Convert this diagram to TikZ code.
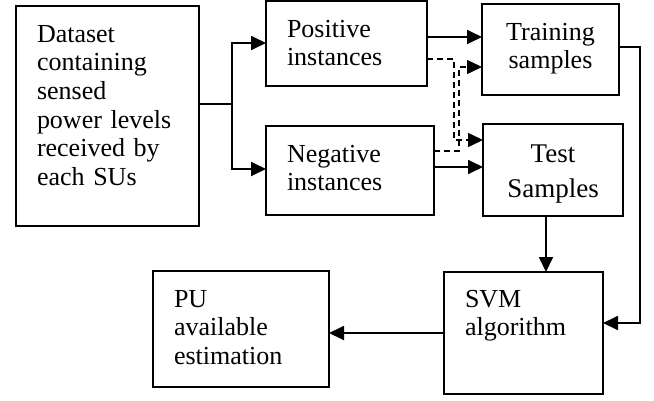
\documentclass[tikz,border=0pt]{standalone}
\usepackage{fontspec}
\setmainfont{Liberation Serif}
\usetikzlibrary{arrows.meta}

\tikzset{
	box/.style={draw, line width=1.8pt, anchor=north west, outer sep=0pt, inner xsep=21pt, inner ysep=0pt, text height=36pt, align=left, font=\fontsize{26}{28.7}\selectfont},
	link/.style={line width=1.8pt, -{Triangle[length=15pt,width=14pt]}},
	dlink/.style={link, line width=1.5pt, dash pattern=on 6pt off 4pt}
}

\begin{document}
\begin{tikzpicture}[x=1pt, y=-1pt]
		\useasboundingbox (0,0) rectangle (654,400);
		\node[box, text width=141pt, text depth=184pt] (data) at (16,6) {Dataset\\containing\\sensed\\power levels\\received by\\each SUs};
		\node[box, text width=119pt, text depth=49pt] (pos) at (266,1) {Positive\\instances};
		\node[box, text width=126pt, text depth=53pt] (neg) at (266,126) {Negative\\instances};
		\node[box, align=center, text width=95pt, text depth=55pt] (train) at (482,4) {Training\\samples};
		\node[box, align=center, text width=98pt, text height=38pt, text depth=54pt, font=\fontsize{27}{35}\selectfont] (test) at (483,124) {Test\\Samples};
		\node[box, text width=117pt, text height=35pt, text depth=87pt] (svm) at (444,272) {SVM\\algorithm};
		\node[box, text width=134pt, text depth=80pt] (pu) at (153,271) {PU\\available\\estimation};
		\coordinate (fork) at (232,104);
		\draw[line width=1.8pt] (fork -| data.east) -- (fork);
		\draw[link] (fork) |- ([yshift=0.5pt]pos.west);
		\draw[link] (fork) |- ([yshift=1.5pt]neg.west);
		\draw[link] ([yshift=6.5pt]pos.east) -- ([yshift=6.5pt]pos.east -| train.west);
		\draw[link] ([yshift=3.5pt]neg.east) -- ([yshift=3.5pt]neg.east -| test.west);
		\draw[dlink] ([yshift=-15.5pt]pos.east) -- ++(27,0) |- ([yshift=30pt]test.west);
		\draw[dlink] ([yshift=19.5pt]neg.east) -- ++(25,0) |- ([yshift=-17.5pt]train.west);
		\draw[link] ([yshift=2.5pt]train.east) -- ++(21,0) |- ([yshift=10pt]svm.east);
		\draw[link] ([xshift=-7pt]test.south) -- ([xshift=-7pt]test.south |- svm.north);
		\draw[link] (svm.west) -- (svm.west -| pu.east);
	\end{tikzpicture}
\end{document}
